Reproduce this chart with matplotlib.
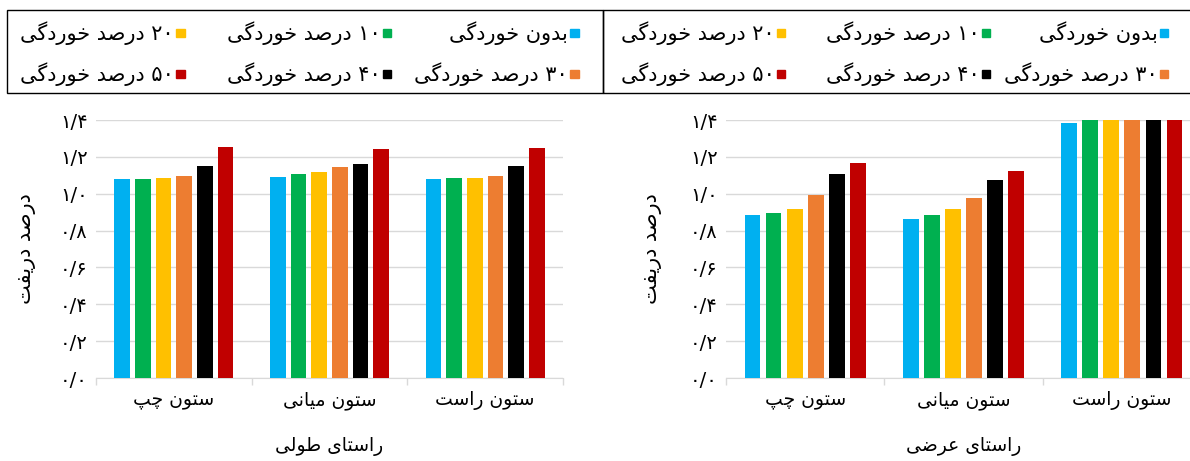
import re
import matplotlib
matplotlib.use("Agg")
import matplotlib.pyplot as plt
from matplotlib.patches import Rectangle
from matplotlib.ticker import FixedLocator, FuncFormatter
import numpy as np

# bar groups (columns) and series (corrosion levels)
categories = ['ستون چپ', 'ستون میانی', 'ستون راست']
series_labels = ['بدون خوردگی', '۱۰ درصد خوردگی', '۲۰ درصد خوردگی',
                 '۳۰ درصد خوردگی', '۴۰ درصد خوردگی', '۵۰ درصد خوردگی']
colors = ['#00B0F0', '#00B050', '#FFC000', '#ED7D31', '#000000', '#C00000']

# drift percent, one row per series, one value per column
drift_long = [[1.082, 1.091, 1.082],
              [1.082, 1.105, 1.087],
              [1.087, 1.118, 1.087],
              [1.095, 1.145, 1.098],
              [1.151, 1.161, 1.149],
              [1.254, 1.245, 1.250]]
drift_trans = [[0.884, 0.861, 1.384],
               [0.897, 0.884, 1.40],
               [0.915, 0.915, 1.40],
               [0.995, 0.977, 1.40],
               [1.108, 1.073, 1.40],
               [1.166, 1.124, 1.40]]

y_label = 'درصد دریفت'
x_titles = ['راستای طولی', 'راستای عرضی']

# --- minimal Persian shaping (presentation forms + visual order) ---
FORMS = {
    'ا': ('\uFE8D', '\uFE8E', None, None),
    'ب': ('\uFE8F', '\uFE90', '\uFE91', '\uFE92'),
    'پ': ('\uFB56', '\uFB57', '\uFB58', '\uFB59'),
    'ت': ('\uFE95', '\uFE96', '\uFE97', '\uFE98'),
    'چ': ('\uFB7A', '\uFB7B', '\uFB7C', '\uFB7D'),
    'خ': ('\uFEA5', '\uFEA6', '\uFEA7', '\uFEA8'),
    'د': ('\uFEA9', '\uFEAA', None, None),
    'ر': ('\uFEAD', '\uFEAE', None, None),
    'س': ('\uFEB1', '\uFEB2', '\uFEB3', '\uFEB4'),
    'ص': ('\uFEB9', '\uFEBA', '\uFEBB', '\uFEBC'),
    'ض': ('\uFEBD', '\uFEBE', '\uFEBF', '\uFEC0'),
    'ط': ('\uFEC1', '\uFEC2', '\uFEC3', '\uFEC4'),
    'ع': ('\uFEC9', '\uFECA', '\uFECB', '\uFECC'),
    'ف': ('\uFED1', '\uFED2', '\uFED3', '\uFED4'),
    'گ': ('\uFB92', '\uFB93', '\uFB94', '\uFB95'),
    'ل': ('\uFEDD', '\uFEDE', '\uFEDF', '\uFEE0'),
    'م': ('\uFEE1', '\uFEE2', '\uFEE3', '\uFEE4'),
    'ن': ('\uFEE5', '\uFEE6', '\uFEE7', '\uFEE8'),
    'و': ('\uFEED', '\uFEEE', None, None),
    'ی': ('\uFBFC', '\uFBFD', '\uFBFE', '\uFBFF'),
}
DIGITS = '۰۱۲۳۴۵۶۷۸۹'


def fa(text):
    out = []
    for i, ch in enumerate(text):
        if ch not in FORMS:
            out.append(ch)
            continue
        iso, fin, ini, med = FORMS[ch]
        prev = text[i - 1] if i > 0 else ''
        nxt = text[i + 1] if i + 1 < len(text) else ''
        jp = prev in FORMS and FORMS[prev][2] is not None
        jn = ini is not None and nxt in FORMS
        out.append(med if jp and jn else fin if jp else ini if jn else iso)
    runs = re.findall('[' + DIGITS + '/]+|[^' + DIGITS + '/]+', ''.join(out))
    return ''.join(r if r[0] in DIGITS + '/' else r[::-1] for r in reversed(runs))


def fa_num(v, pos=None):
    s = f'{v:.1f}'.replace('.', '/')
    return ''.join(DIGITS[int(c)] if c.isdigit() else c for c in s)


plt.rcParams['font.family'] = ['DejaVu Sans']

fig = plt.figure(figsize=(11.9, 4.61), dpi=100)
W, H = 1190, 461

def fig_box(x0, y0, x1, y1):
    return [x0 / W, 1 - y1 / H, (x1 - x0) / W, (y1 - y0) / H]

ax_long = fig.add_axes(fig_box(96, 120, 563, 378))
ax_trans = fig.add_axes(fig_box(726, 120, 1201, 378))

x = np.arange(len(categories))
step, width = 0.133, 0.10
for ax, data, title in [(ax_long, drift_long, x_titles[0]),
                        (ax_trans, drift_trans, x_titles[1])]:
    for j, (vals, c) in enumerate(zip(data, colors)):
        ax.bar(x + (j - 2.5) * step, vals, width, color=c, zorder=3)
    ax.set_xlim(-0.5, len(categories) - 0.5)
    ax.set_ylim(0, 1.4)
    ax.set_yticks(np.arange(0, 1.41, 0.2))
    ax.yaxis.set_major_formatter(FuncFormatter(fa_num))
    ax.grid(axis='y', color='#d9d9d9', lw=1.0, zorder=0)
    ax.set_xticks(x)
    ax.set_xticklabels([fa(c) for c in categories], fontsize=13.5)
    ax.xaxis.set_minor_locator(FixedLocator(np.arange(-0.5, len(categories), 1.0)))
    ax.tick_params(axis='x', which='major', length=0, pad=9)
    ax.tick_params(axis='x', which='minor', length=5, color='#d9d9d9', width=1)
    ax.tick_params(axis='y', length=0, pad=6, labelsize=14)
    for side in ['top', 'right', 'left']:
        ax.spines[side].set_visible(False)
    ax.spines['bottom'].set_color('#d9d9d9')
    ax.set_xlabel(fa(title), fontsize=13.5, labelpad=20)

fig.text(26 / W, 1 - 249 / H, fa(y_label), rotation=90, ha='center',
         va='center', fontsize=15)
fig.text(652 / W, 1 - 249 / H, fa(y_label), rotation=90, ha='center',
         va='center', fontsize=15)

# legend boxes, right-to-left: marker on the right of each label
boxes = [(7, 603, [578.6, 391, 184.5]), (603, 1195, [1168, 990, 785])]
rows = [33, 74]
for x0, x1, cols in boxes:
    fig.add_artist(Rectangle((x0 / W, 1 - 93 / H), (x1 - x0) / W, 83 / H,
                             transform=fig.transFigure, fill=False,
                             edgecolor='black', lw=1.0))
    for k, (lab, c) in enumerate(zip(series_labels, colors)):
        cx, cy = cols[k % 3], rows[k // 3]
        ms = 8.5
        fig.add_artist(Rectangle(((cx - ms) / W, 1 - (cy + ms / 2) / H),
                                 ms / W, ms / H, transform=fig.transFigure,
                                 color=c))
        fig.text((cx - ms - 2) / W, 1 - cy / H, fa(lab), ha='right',
                 va='center', fontsize=15)

fig.savefig('out.png', dpi=100)
